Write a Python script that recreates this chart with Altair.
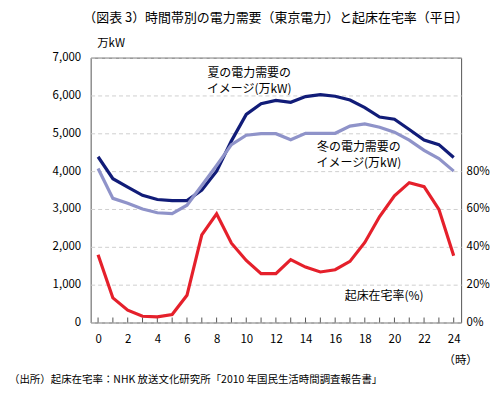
import altair as alt
import pandas as pd

FONT = "Noto Sans CJK JP"

hours = list(range(25))
summer = [4380, 3800, 3580, 3360, 3250, 3220, 3220, 3500, 4000, 4800, 5500, 5780, 5870,
          5820, 5970, 6020, 5980, 5880, 5680, 5430, 5370, 5100, 4820, 4700, 4360]
winter = [4070, 3280, 3150, 3000, 2900, 2880, 3100, 3620, 4150, 4700, 4950, 4990, 4990,
          4830, 5000, 5000, 5000, 5190, 5250, 5160, 5030, 4820, 4550, 4330, 4000]
rate = [35.8, 13.0, 6.5, 3.3, 3.0, 4.2, 14.4, 46.3, 57.4, 41.9, 32.8, 25.8, 25.8,
        33.2, 29.3, 26.7, 27.9, 32.3, 42.3, 56.0, 67.0, 73.9, 71.8, 59.8, 35.3]

series_names = ["夏", "冬"]
series_colors = ["#111c78", "#8f93c9"]

label_texts = ["夏の電力需要の", "イメージ(万kW)", "冬の電力需要の", "イメージ(万kW)", "起床在宅率(%)"]
label_hours = [10.2, 10.2, 17.6, 17.6, 19.3]
label_values = [6600, 6180, 4630, 4210, 690]

kw_ticks = [0, 1000, 2000, 3000, 4000, 5000, 6000, 7000]
pct_ticks = [0, 20, 40, 60, 80]

df_lines = pd.DataFrame({
    "hour": hours * 2,
    "value": summer + winter,
    "series": ["夏"] * 25 + ["冬"] * 25,
})
df_rate = pd.DataFrame({"hour": hours, "rate": rate})
df_labels = pd.DataFrame({"hour": label_hours, "value": label_values, "text": label_texts})
df_ticks = pd.DataFrame({"hour": hours})

xscale = alt.Scale(domain=[-0.5, 24.5], nice=False, zero=False)
xaxis = alt.Axis(
    values=list(range(0, 25, 2)), format="d", grid=False, domain=False, ticks=False,
    labelFontSize=11.5, labelFont=FONT, labelColor="#000", labelPadding=11,
    title="（時）", titleFont=FONT, titleFontSize=11.5, titleFontWeight="normal",
    titleAngle=0, titleX=371, titleY=32, titleAlign="center", titleColor="#000",
)

ykw = alt.Y(
    "value:Q",
    scale=alt.Scale(domain=[0, 7000], nice=False),
    axis=alt.Axis(
        values=kw_ticks, format=",.0f", grid=True, gridDash=[4, 3], gridColor="#cfcfcf",
        domain=False, ticks=False, labelFontSize=11.5, labelFont=FONT, labelColor="#000",
        labelPadding=10, title="万kW", titleFont=FONT, titleFontSize=11.5,
        titleFontWeight="normal", titleAngle=0, titleX=20, titleY=-9,
        titleAlign="center", titleColor="#000",
    ),
)

ticks = alt.Chart(df_ticks).mark_rule(color="#555", strokeWidth=1).encode(
    x=alt.X("hour:Q", scale=xscale, axis=xaxis),
    y=alt.value(266),
    y2=alt.value(261),
)

lines = alt.Chart(df_lines).mark_line(strokeWidth=3.2).encode(
    x=alt.X("hour:Q", scale=xscale, axis=xaxis),
    y=ykw,
    color=alt.Color("series:N", scale=alt.Scale(domain=series_names, range=series_colors), legend=None),
    order=alt.Order("series:N", sort="ascending"),
)

texts = alt.Chart(df_labels).mark_text(
    font=FONT, fontSize=12, color="#000", align="center", baseline="middle"
).encode(
    x=alt.X("hour:Q", scale=xscale, axis=xaxis),
    y=ykw,
    text="text:N",
)

footer = alt.Chart(pd.DataFrame({"t": ["（出所）起床在宅率：NHK 放送文化研究所「2010 年国民生活時間調査報告書」"]})).mark_text(
    font=FONT, fontSize=10.5, color="#000", align="left", baseline="middle"
).encode(x=alt.value(-82), y=alt.value(324), text="t:N")

left = alt.layer(ticks, lines, texts, footer)

right = alt.Chart(df_rate).mark_line(strokeWidth=3.2, color="#e5202b").encode(
    x=alt.X("hour:Q", scale=xscale, axis=xaxis),
    y=alt.Y(
        "rate:Q",
        scale=alt.Scale(domain=[0, 140], nice=False),
        axis=alt.Axis(
            orient="right", values=pct_ticks, labelExpr="datum.value + '%'", grid=False,
            domain=False, ticks=False, labelFontSize=11.5, labelFont=FONT,
            labelColor="#000", labelPadding=5, title=None,
        ),
    ),
)

chart = alt.layer(left, right).resolve_scale(y="independent").properties(
    width=372,
    height=266,
    autosize=alt.AutoSizeParams(type="none"),
    padding={"left": 83, "top": 49, "right": 30, "bottom": 74},
    title=alt.TitleParams(
        "（図表 3）時間帯別の電力需要（東京電力）と起床在宅率（平日）",
        font=FONT, fontSize=13, fontWeight="normal", color="#000",
        anchor="middle", offset=13,
    ),
).configure_view(stroke="#555", strokeWidth=1)

chart.save("out.html", embed_options={"renderer": "svg", "actions": False})
